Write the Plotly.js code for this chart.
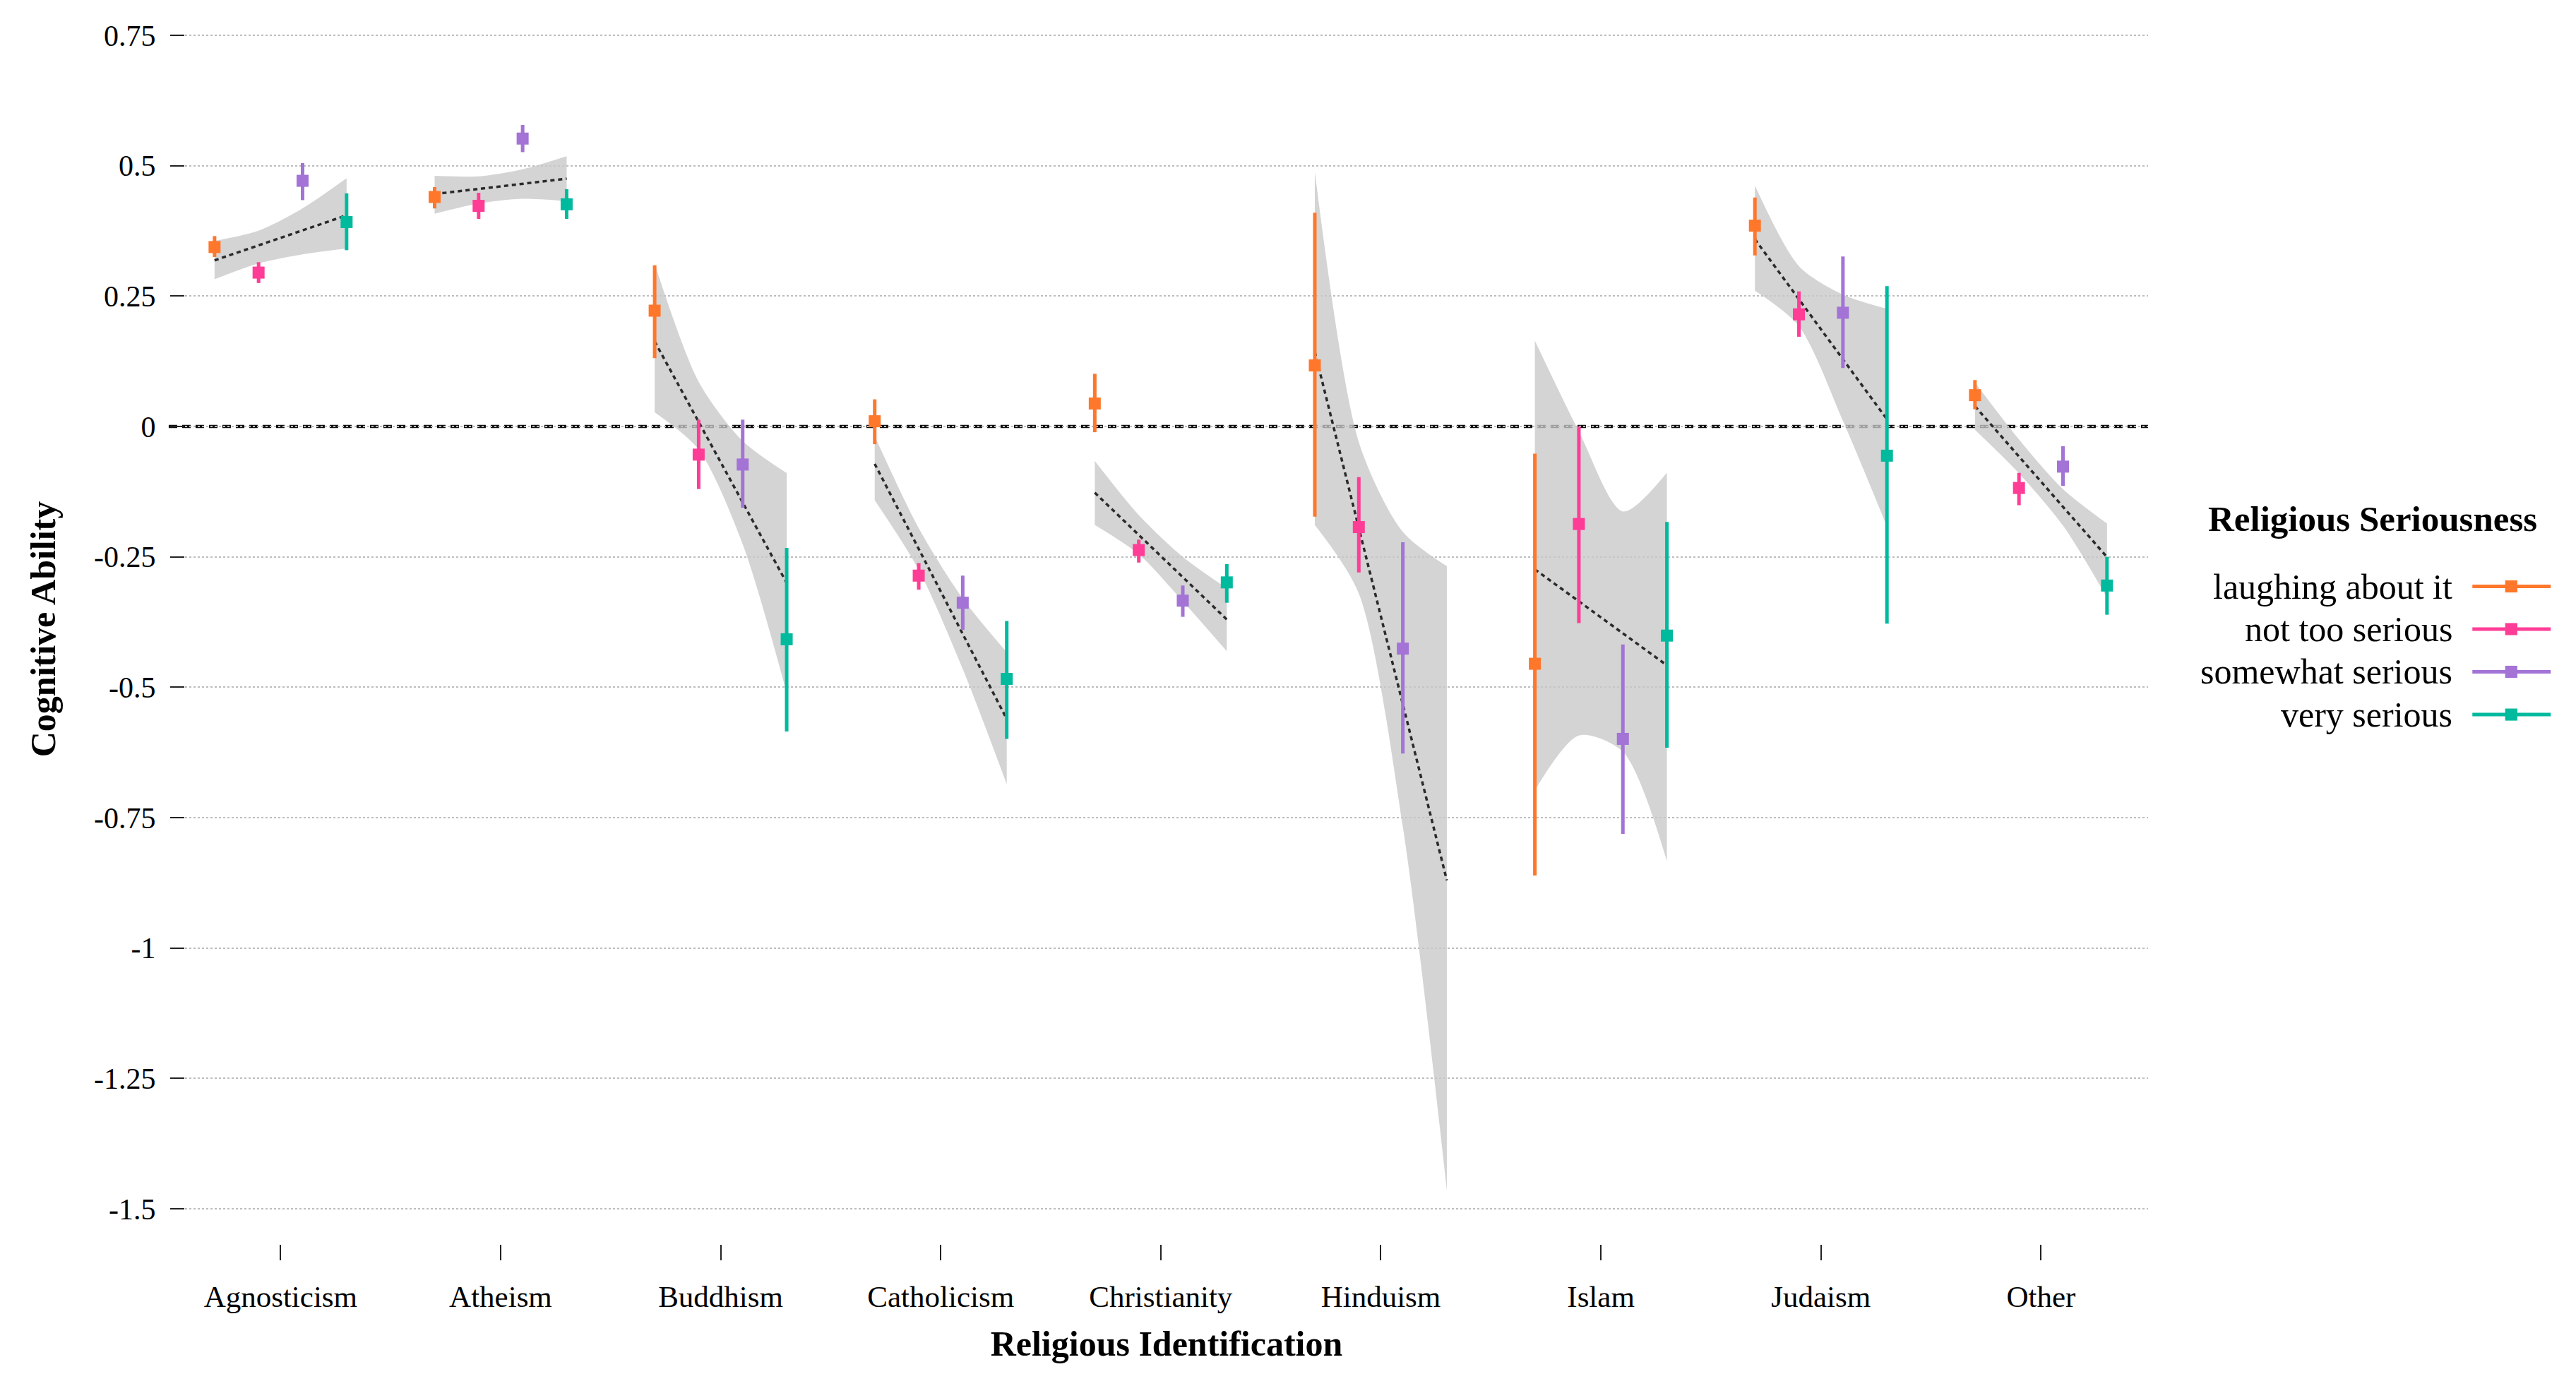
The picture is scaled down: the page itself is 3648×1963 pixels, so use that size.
<!DOCTYPE html>
<html>
<head>
<meta charset="utf-8">
<script src="https://cdn.plot.ly/plotly-3.0.1.min.js"></script>
<style>
  html, body { margin: 0; padding: 0; background: #ffffff; }
  #chart { width: 3648px; height: 1963px; }
</style>
</head>
<body>
<div id="chart"></div>
<script>
// ---------------- data ----------------
const categories = ["Agnosticism", "Atheism", "Buddhism", "Catholicism", "Christianity", "Hinduism", "Islam", "Judaism", "Other"];
const seriousness = ["laughing about it", "not too serious", "somewhat serious", "very serious"];

// estimated means and interval bounds per religious identification
const laughingMean = [0.344, 0.440, 0.222, 0.010, 0.044, 0.117, -0.455, 0.385, 0.060];
const laughingLow  = [0.325, 0.418, 0.131, -0.034, -0.011, -0.173, -0.861, 0.328, 0.033];
const laughingHigh = [0.365, 0.459, 0.309, 0.052, 0.101, 0.410, -0.052, 0.439, 0.089];

const notTooMean = [0.295, 0.423, -0.054, -0.286, -0.237, -0.193, -0.187, 0.215, -0.118];
const notTooLow  = [0.275, 0.398, -0.120, -0.313, -0.261, -0.280, -0.377, 0.172, -0.151];
const notTooHigh = [0.315, 0.448, 0.013, -0.262, -0.217, -0.097, 0.000, 0.259, -0.089];

const somewhatMean = [0.471, 0.552, -0.073, -0.338, -0.334, -0.426, -0.599, 0.218, -0.077];
const somewhatLow  = [0.434, 0.526, -0.156, -0.390, -0.365, -0.627, -0.781, 0.112, -0.114];
const somewhatHigh = [0.505, 0.578, 0.013, -0.286, -0.305, -0.222, -0.418, 0.326, -0.038];

const veryMean = [0.392, 0.426, -0.408, -0.484, -0.299, null, -0.401, -0.056, -0.305];
const veryLow  = [0.338, 0.398, -0.585, -0.599, -0.338, null, -0.616, -0.378, -0.361];
const veryHigh = [0.447, 0.455, -0.233, -0.373, -0.264, null, -0.183, 0.269, -0.250];

// fitted trend within each identification (value at first and last seriousness level)
const fitStart = [0.3185, 0.4456, 0.163, -0.0717, -0.127, 0.143, -0.274, 0.3589, 0.0388];
const fitEnd   = [0.4048, 0.4751, -0.3001, -0.561, -0.370, -0.8704, -0.458, 0.0138, -0.2504];

// confidence band of the trend, read at each seriousness level
const bandUpperLaughing = [0.3558, 0.4805, 0.312, -0.0187, -0.066, 0.4886, 0.1645, 0.4618, 0.0841];
const bandUpperNotToo   = [0.3753, 0.4796, 0.0855, -0.195, -0.170, -0.030, -0.0096, 0.3074, -0.025];
const bandUpperSomewhat = [0.4183, 0.4932, -0.0279, -0.330, -0.250, -0.202, -0.163, 0.2529, -0.120];
const bandUpperVery     = [0.476, 0.5181, -0.0895, -0.433, -0.310, -0.2678, -0.0887, 0.2256, -0.186];
const bandLowerLaughing = [0.2822, 0.4079, 0.0272, -0.1415, -0.189, -0.189, -0.6975, 0.2602, -0.0066];
const bandLowerNotToo   = [0.3127, 0.4274, -0.0442, -0.275, -0.245, -0.3205, -0.5925, 0.1923, -0.090];
const bandLowerSomewhat = [0.330, 0.4365, -0.2256, -0.465, -0.335, -0.7677, -0.6237, 0.0107, -0.190];
const bandLowerVery     = [0.3413, 0.432, -0.5107, -0.686, -0.431, -1.4651, -0.8336, -0.192, -0.328];

const yTickVals = [0.75, 0.5, 0.25, 0, -0.25, -0.5, -0.75, -1, -1.25, -1.5];
const yTickText = ["0.75", "0.5", "0.25", "0", "-0.25", "-0.5", "-0.75", "-1", "-1.25", "-1.5"];

// ---------------- styling ----------------
const colors = ["#FF772B", "#FF3D96", "#A373D6", "#00BA9E"];
const dodge = [-0.3, -0.1, 0.1, 0.3];
const FONT = "Liberation Serif, Times New Roman, serif";

const means = [laughingMean, notTooMean, somewhatMean, veryMean];
const lows = [laughingLow, notTooLow, somewhatLow, veryLow];
const highs = [laughingHigh, notTooHigh, somewhatHigh, veryHigh];
const bandUpper = [bandUpperLaughing, bandUpperNotToo, bandUpperSomewhat, bandUpperVery];
const bandLower = [bandLowerLaughing, bandLowerNotToo, bandLowerSomewhat, bandLowerVery];

const traces = [];

// confidence bands
categories.forEach((c, i) => {
  const xs = dodge.map(d => i + 1 + d);
  traces.push({
    x: xs, y: bandLower.map(a => a[i]), mode: "lines", type: "scatter",
    line: { width: 0, color: "rgba(0,0,0,0)", shape: "spline", smoothing: 0.8 },
    hoverinfo: "skip", showlegend: false
  });
  traces.push({
    x: xs, y: bandUpper.map(a => a[i]), mode: "lines", type: "scatter",
    fill: "tonexty", fillcolor: "rgba(200,200,200,0.78)",
    line: { width: 0, color: "rgba(0,0,0,0)", shape: "spline", smoothing: 0.8 },
    hoverinfo: "skip", showlegend: false
  });
});

// fitted trend lines
const fx = [], fy = [];
categories.forEach((c, i) => {
  fx.push(i + 1 + dodge[0], i + 1 + dodge[3], null);
  fy.push(fitStart[i], fitEnd[i], null);
});
traces.push({
  x: fx, y: fy, mode: "lines", type: "scatter",
  line: { color: "#2a2a2a", width: 3.5, dash: "6px,5px" },
  hoverinfo: "skip", showlegend: false
});

// point ranges
seriousness.forEach((s, k) => {
  const m = means[k], lo = lows[k], hi = highs[k];
  traces.push({
    name: s, type: "scatter", mode: "markers",
    x: categories.map((c, i) => i + 1 + dodge[k]),
    y: m,
    marker: { symbol: "square", size: 17, color: colors[k], line: { width: 0 } },
    error_y: {
      type: "data", symmetric: false,
      array: m.map((v, i) => v === null ? null : hi[i] - v),
      arrayminus: m.map((v, i) => v === null ? null : v - lo[i]),
      color: colors[k], thickness: 5, width: 0
    },
    showlegend: false
  });
});

// ---------------- custom legend (symbol to the right of label) ----------------
const annotations = [];
const shapes = [];

shapes.push({
  type: "line", xref: "paper", yref: "y", x0: -0.0083, x1: 1, y0: 0, y1: 0,
  layer: "between", line: { color: "#111111", width: 4.5, dash: "12px,7px" }
});

annotations.push({
  xref: "paper", yref: "paper", x: 1.030, y: 0.5896, xanchor: "left", yanchor: "middle",
  text: "<b>Religious Seriousness</b>", showarrow: false,
  font: { family: FONT, size: 51, color: "#000000" }
});
const rowY = [0.5347, 0.5000, 0.4653, 0.4305];
seriousness.forEach((s, k) => {
  annotations.push({
    xref: "paper", yref: "paper", x: 1.1559, y: rowY[k], xanchor: "right", yanchor: "middle",
    text: s, showarrow: false, font: { family: FONT, size: 50, color: "#000000" }
  });
  shapes.push({
    type: "line", xref: "paper", yref: "paper", x0: 1.1652, x1: 1.2051, y0: rowY[k], y1: rowY[k],
    line: { color: colors[k], width: 5 }
  });
  shapes.push({
    type: "rect", xref: "paper", yref: "paper", x0: 1.1819, x1: 1.1881,
    y0: rowY[k] - 0.0049, y1: rowY[k] + 0.0049,
    fillcolor: colors[k], line: { width: 0 }
  });
});

const layout = {
  width: 3648, height: 1963,
  paper_bgcolor: "#ffffff", plot_bgcolor: "#ffffff",
  margin: { l: 262, r: 606, t: 20, b: 201 },
  showlegend: false,
  font: { family: FONT, color: "#000000", size: 43 },
  xaxis: {
    range: [0.5657, 9.4867],
    tickmode: "array", tickvals: categories.map((c, i) => i + 1), ticktext: categories,
    showgrid: false, zeroline: false, showline: false,
    ticks: "outside", ticklen: 22, tickwidth: 2, tickcolor: "#222222",
    tickfont: { family: FONT, size: 43, color: "#000000" },
    ticklabelstandoff: 14,
    title: { text: "<b>Religious Identification</b>", font: { family: FONT, size: 50, color: "#000000" }, standoff: 26 }
  },
  yaxis: {
    range: [-1.5677, 0.7906],
    tickmode: "array", tickvals: yTickVals, ticktext: yTickText,
    showgrid: true, gridcolor: "#bdbdbd", gridwidth: 2, griddash: "dot",
    zeroline: false, showline: false,
    ticks: "outside", ticklen: 20, tickwidth: 2, tickcolor: "#222222",
    tickfont: { family: FONT, size: 42, color: "#000000" },
    ticklabelstandoff: 12,
    title: { text: "<b>Cognitive Ability</b>", font: { family: FONT, size: 50, color: "#000000" }, standoff: 38 }
  },
  annotations: annotations,
  shapes: shapes
};

Plotly.newPlot("chart", traces, layout, { displayModeBar: false, staticPlot: true });
</script>
</body>
</html>
